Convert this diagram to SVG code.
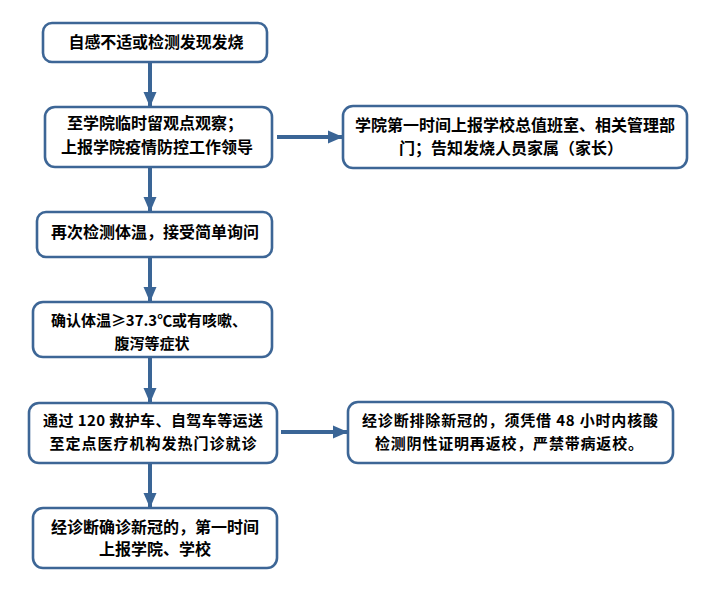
<svg xmlns="http://www.w3.org/2000/svg" width="703" height="589" viewBox="0 0 703 589">
<defs>
<marker id="ah" markerUnits="userSpaceOnUse" markerWidth="16" markerHeight="16" viewBox="0 0 16 16" refX="15" refY="8" orient="auto">
<path d="M0,1.5 L15,8 L0,14.5 Z" fill="#3A6596"/>
</marker>
</defs>
<style>
.box{fill:#fff;stroke:#3D6696;stroke-width:2.6}
.t{font-family:"Noto Sans CJK SC","Liberation Sans",sans-serif;font-size:16px;font-weight:bold;fill:#000;text-anchor:middle}
.s{font-size:15px}
.c{stroke:#3A6596;stroke-width:4;fill:none;marker-end:url(#ah)}
</style>
<rect width="703" height="589" fill="#fff"/>
<g id="connectors">
<line class="c" x1="150" y1="62" x2="150" y2="107"/>
<line class="c" x1="150" y1="167" x2="150" y2="212"/>
<line class="c" x1="150" y1="257" x2="150" y2="302"/>
<line class="c" x1="150" y1="357" x2="150" y2="403"/>
<line class="c" x1="150" y1="463" x2="150" y2="508"/>
<line class="c" x1="277" y1="137" x2="343" y2="137"/>
<line class="c" x1="281" y1="432" x2="348" y2="432"/>
</g>
<g id="n1">
<rect class="box" x="43" y="23" width="224" height="39" rx="9"/>
<text class="t" x="156" y="48" textLength="175">自感不适或检测发现发烧</text>
</g>
<g id="n2">
<rect class="box" x="45" y="107" width="227" height="60" rx="10"/>
<text class="t" x="155" y="129">至学院临时留观点观察；</text>
<text class="t" x="157" y="153">上报学院疫情防控工作领导</text>
</g>
<g id="n3">
<rect class="box" x="343" y="106" width="344" height="62" rx="10"/>
<text class="t" x="515" y="131">学院第一时间上报学校总值班室、相关管理部</text>
<text class="t" x="511" y="154">门；告知发烧人员家属（家长）</text>
</g>
<g id="n4">
<rect class="box" x="37" y="212" width="235" height="45" rx="9"/>
<text class="t" x="155" y="238">再次检测体温，接受简单询问</text>
</g>
<g id="n5">
<rect class="box" x="33" y="302" width="239" height="55" rx="10"/>
<text class="t s" x="149" y="326" textLength="196">确认体温≥37.3℃或有咳嗽、</text>
<text class="t s" x="152" y="349" textLength="75">腹泻等症状</text>
</g>
<g id="n6">
<rect class="box" x="29" y="403" width="248" height="60" rx="10"/>
<text class="t s" x="153" y="426" textLength="220">通过 120 救护车、自驾车等运送</text>
<text class="t s" x="153" y="449" textLength="207">至定点医疗机构发热门诊就诊</text>
</g>
<g id="n7">
<rect class="box" x="33" y="508" width="244" height="60" rx="10"/>
<text class="t" x="155" y="533">经诊断确诊新冠的，第一时间</text>
<text class="t" x="155" y="555">上报学院、学校</text>
</g>
<g id="n8">
<rect class="box" x="348" y="402" width="325" height="61" rx="10"/>
<text class="t s" x="510" y="426" textLength="296">经诊断排除新冠的，须凭借 48 小时内核酸</text>
<text class="t s" x="509" y="449" textLength="268">检测阴性证明再返校，严禁带病返校。</text>
</g>
</svg>
